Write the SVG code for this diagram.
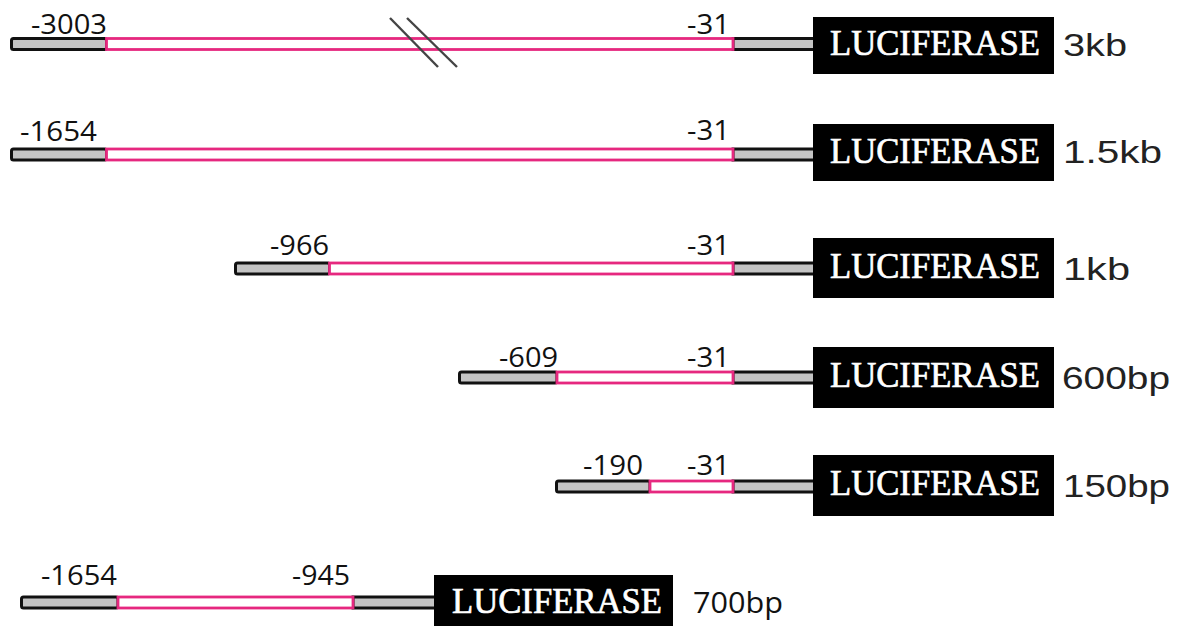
<svg xmlns="http://www.w3.org/2000/svg" width="1180" height="626" viewBox="0 0 1180 626">
<style>
.g{fill:#c4c4c4;stroke:#111;stroke-width:3}
.p{fill:#fff;stroke:#e6287f;stroke-width:2.8}
.box{fill:#000}
.luc{font-family:"Liberation Serif",serif;font-size:36px;fill:#fff;stroke:#fff;stroke-width:0.7}
.num{font-family:"Open Sans",sans-serif;font-size:28px;fill:#111}
.sz{font-family:"Liberation Sans",Arial,sans-serif;font-size:32px;fill:#222}
.sz2{font-family:"Open Sans",sans-serif;font-size:30px;fill:#111}
.brk{stroke:#444;stroke-width:2.4}
</style>
<rect width="1180" height="626" fill="#fff"/>

<g id="construct-3kb">
  <rect class="g" x="733" y="38.5" width="82" height="11"/>
  <rect class="g" x="11.5" y="38.5" width="95" height="11" rx="2"/>
  <rect class="p" x="106.5" y="38.5" width="626.5" height="11"/>
  <line class="brk" x1="390" y1="18" x2="438" y2="67"/>
  <line class="brk" x1="407" y1="18" x2="457" y2="67"/>
  <rect class="box" x="813" y="17" width="241" height="57"/>
  <text class="luc" x="830" y="55" textLength="210" lengthAdjust="spacingAndGlyphs">LUCIFERASE</text>
  <text class="num" x="31" y="34" textLength="76" lengthAdjust="spacingAndGlyphs">-3003</text>
  <text class="num" x="687" y="34" textLength="43" lengthAdjust="spacingAndGlyphs">-31</text>
  <text class="sz" x="1063" y="56" textLength="64" lengthAdjust="spacingAndGlyphs">3kb</text>
</g>

<g id="construct-1-5kb">
  <rect class="g" x="733" y="149" width="82" height="11"/>
  <rect class="g" x="11.5" y="149" width="95" height="11" rx="2"/>
  <rect class="p" x="106.5" y="149" width="626.5" height="11"/>
  <rect class="box" x="813" y="124" width="241" height="57"/>
  <text class="luc" x="830" y="163" textLength="210" lengthAdjust="spacingAndGlyphs">LUCIFERASE</text>
  <text class="num" x="20" y="141" textLength="77" lengthAdjust="spacingAndGlyphs">-1654</text>
  <text class="num" x="687" y="140" textLength="43" lengthAdjust="spacingAndGlyphs">-31</text>
  <text class="sz" x="1063" y="163" textLength="99" lengthAdjust="spacingAndGlyphs">1.5kb</text>
</g>

<g id="construct-1kb">
  <rect class="g" x="733" y="263" width="82" height="11"/>
  <rect class="g" x="235.5" y="263" width="94" height="11" rx="2"/>
  <rect class="p" x="329.5" y="263" width="403.5" height="11"/>
  <rect class="box" x="813" y="238" width="241" height="60"/>
  <text class="luc" x="830" y="278" textLength="210" lengthAdjust="spacingAndGlyphs">LUCIFERASE</text>
  <text class="num" x="270" y="255" textLength="59" lengthAdjust="spacingAndGlyphs">-966</text>
  <text class="num" x="687" y="255" textLength="43" lengthAdjust="spacingAndGlyphs">-31</text>
  <text class="sz" x="1063" y="280" textLength="67" lengthAdjust="spacingAndGlyphs">1kb</text>
</g>

<g id="construct-600bp">
  <rect class="g" x="733" y="372" width="82" height="11"/>
  <rect class="g" x="459.5" y="372" width="97.5" height="11" rx="2"/>
  <rect class="p" x="557" y="372" width="176" height="11"/>
  <rect class="box" x="813" y="347" width="241" height="61"/>
  <text class="luc" x="830" y="387" textLength="210" lengthAdjust="spacingAndGlyphs">LUCIFERASE</text>
  <text class="num" x="499" y="367" textLength="59" lengthAdjust="spacingAndGlyphs">-609</text>
  <text class="num" x="687" y="367" textLength="43" lengthAdjust="spacingAndGlyphs">-31</text>
  <text class="sz" x="1062" y="389" textLength="108" lengthAdjust="spacingAndGlyphs">600bp</text>
</g>

<g id="construct-150bp">
  <rect class="g" x="733" y="481" width="82" height="11"/>
  <rect class="g" x="556.5" y="481" width="93.5" height="11" rx="2"/>
  <rect class="p" x="650" y="481" width="83" height="11"/>
  <rect class="box" x="813" y="455" width="241" height="61"/>
  <text class="luc" x="830" y="495" textLength="210" lengthAdjust="spacingAndGlyphs">LUCIFERASE</text>
  <text class="num" x="583" y="475" textLength="60" lengthAdjust="spacingAndGlyphs">-190</text>
  <text class="num" x="687" y="475" textLength="43" lengthAdjust="spacingAndGlyphs">-31</text>
  <text class="sz" x="1063" y="497" textLength="107" lengthAdjust="spacingAndGlyphs">150bp</text>
</g>

<g id="construct-700bp">
  <rect class="g" x="353" y="597" width="83" height="11"/>
  <rect class="g" x="21.5" y="597" width="96.5" height="11" rx="2"/>
  <rect class="p" x="118" y="597" width="235" height="11"/>
  <rect class="box" x="434" y="575" width="239" height="60"/>
  <text class="luc" x="452" y="613" textLength="210" lengthAdjust="spacingAndGlyphs">LUCIFERASE</text>
  <text class="num" x="41" y="585" textLength="76" lengthAdjust="spacingAndGlyphs">-1654</text>
  <text class="num" x="292" y="585" textLength="58" lengthAdjust="spacingAndGlyphs">-945</text>
  <text class="sz2" x="693" y="613" textLength="90" lengthAdjust="spacingAndGlyphs">700bp</text>
</g>
</svg>
